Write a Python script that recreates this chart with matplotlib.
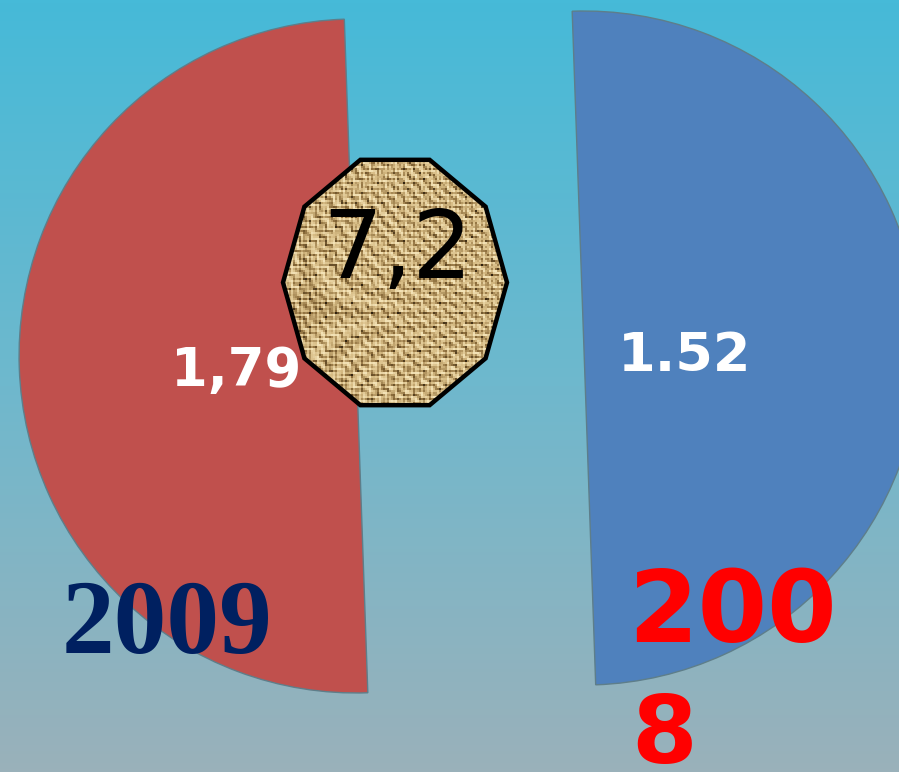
"""Half-and-half pie: 2009 vs 2008 with a textured badge in the middle."""
import matplotlib
matplotlib.use('Agg')
import matplotlib.pyplot as plt
import numpy as np
from matplotlib.colors import LinearSegmentedColormap
from matplotlib.patches import Polygon

# === data ===
years = ['2009', '2008']
value_labels = ['1,79', '1.52']
slice_shares = [1, 1]          # the two slices are drawn as equal halves
badge_label = '7,2'

# === style ===
W, H = 899, 772
RED = '#C0504D'
BLUE = '#4F81BD'
NAVY = '#002060'
BRIGHT_RED = '#FF0000'

fig = plt.figure(figsize=(W / 100, H / 100), dpi=100)
ax = fig.add_axes([0, 0, 1, 1])

# background gradient (top cyan -> bottom grey-blue)
bg = LinearSegmentedColormap.from_list('bg', ['#9AB1BA', '#6FB8CD', '#46BAD8'])
grad = np.linspace(0, 1, 256).reshape(-1, 1)
ax.imshow(grad, cmap=bg, extent=(0, W, 0, H), origin='lower',
          aspect='auto', zorder=0)

# exploded pie, two halves (explode is in data units here)
wedges, _ = ax.pie(slice_shares, colors=[RED, BLUE], startangle=92,
                   counterclock=True, radius=337, center=(470, 420),
                   explode=[114, 114],
                   wedgeprops=dict(edgecolor='#5E7E8A', linewidth=1.0))
for w in wedges:
    w.set_zorder(2)

# value labels inside the slices
ax.text(236, 772 - 386, value_labels[0], ha='center', va='baseline',
        fontsize=38, fontweight='bold', color='white', zorder=3)
ax.text(685, 772 - 371, value_labels[1], ha='center', va='baseline',
        fontsize=39, fontweight='bold', color='white', zorder=3)

# textured decagon badge (a little taller than wide)
cx, cy, rx, ry = 395, 772 - 282.5, 112, 129
ang = np.deg2rad(np.arange(10) * 36)
badge_xy = np.column_stack([cx + rx * np.cos(ang), cy + ry * np.sin(ang)])
badge = Polygon(badge_xy, closed=True, facecolor='none', edgecolor='none',
                zorder=4)
ax.add_patch(badge)
xx, yy = np.meshgrid(np.arange(130), np.arange(140))
weave = (0.64 + 0.14 * np.cos(2 * np.pi * xx / 2.6)
         + 0.14 * np.cos(2 * np.pi * yy / 2.4))
weave += 0.28 * np.sin(xx * 0.71 + yy * 1.37) * np.cos(yy * 0.53 - xx * 0.29)
weave += 0.2 * np.sin(xx * yy * 0.017) * np.sin(xx * 0.9 + yy * 0.31)
weave = np.clip(weave, 0, 1)
tex = LinearSegmentedColormap.from_list('tex', ['#2E200E', '#8A6B3A',
                                                '#D6BB84', '#F3E2B6'])
im = ax.imshow(weave, cmap=tex, extent=(cx - 130, cx + 130, cy - 140, cy + 140),
               origin='lower', aspect='auto', zorder=4, interpolation='nearest')
im.set_clip_path(badge)
ax.add_patch(Polygon(badge_xy, closed=True, facecolor='none',
                     edgecolor='black', linewidth=3.2, zorder=5))
ax.text(397, 772 - 278, badge_label, ha='center', va='baseline',
        fontsize=68, color='black', zorder=6)

# year captions
ax.text(167, 772 - 653, years[0], ha='center', va='baseline',
        fontsize=76, fontweight='bold', color=NAVY,
        family='Liberation Serif', zorder=6)
ax.text(732, 772 - 642, years[1][:3], ha='center', va='baseline',
        fontsize=72, fontweight='bold', color=BRIGHT_RED, zorder=6)
ax.text(664, 772 - 763, years[1][3:], ha='center', va='baseline',
        fontsize=68, fontweight='bold', color=BRIGHT_RED, zorder=6)

ax.set_xlim(0, W)
ax.set_ylim(0, H)
ax.set_aspect('auto')
ax.axis('off')

fig.savefig('out.png', dpi=100)
